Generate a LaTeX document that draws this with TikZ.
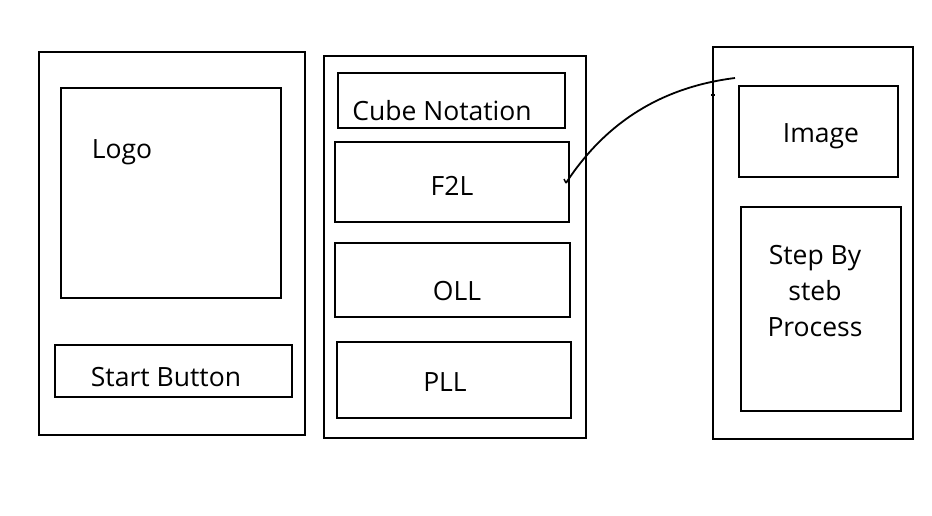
\documentclass[tikz,border=0pt]{standalone}
\usepackage{fontspec}
\setmainfont{Open Sans}
\begin{document}
\begin{tikzpicture}[x=1pt,y=-1pt,
  box/.style={draw=black,line width=2pt,inner sep=0pt},
  lbl/.style={font=\fontsize{26.5}{36}\selectfont,inner sep=0pt,anchor=center}]
\useasboundingbox[fill=white] (0,0) rectangle (932,516);
% left screen
\draw[box] (39,52) rectangle (305,435);
\draw[box] (61,88) rectangle (281,298);
\node[lbl] (logo) at (122,152) {Logo};
\draw[box,line width=1.6pt] (55,345) rectangle (292,397);
\node[lbl] (start) at (166,377) {Start Button};
% middle screen
\draw[box] (324,56) rectangle (586,438);
\draw[box] (338,73) rectangle (565,128);
\node[lbl] (cube) at (442,111) {Cube Notation};
\draw[box,line width=1.6pt] (335,142) rectangle (569,222);
\node[lbl] (f2l) at (452,186) {F2L};
\draw[box,line width=1.6pt] (335,243) rectangle (570,317);
\node[lbl] (oll) at (457,291) {OLL};
\draw[box] (337,342) rectangle (571,418);
\node[lbl] (pll) at (445,382) {PLL};
% right screen
\draw[box] (713,47) rectangle (913,439);
\draw[box] (739,86) rectangle (898,177);
\node[lbl] (image) at (821,136) {Image};
\draw[box] (741,207) rectangle (901,411);
\node[lbl,align=center] (steps) at (815,291) {Step By\\steb\\Process};
% connector
\coordinate (cs) at (566,183);
\coordinate (ce) at (735,78);
\draw[line width=1.8pt] (cs) .. controls (602,128) and (655,88) .. (ce);
\draw[line width=1.5pt] (cs) -- ++(-2,-4);
\draw[line width=1.5pt] (586,117) -- (586,120);
\draw[line width=2pt] (711,95) -- (715,95);
\end{tikzpicture}
\end{document}
